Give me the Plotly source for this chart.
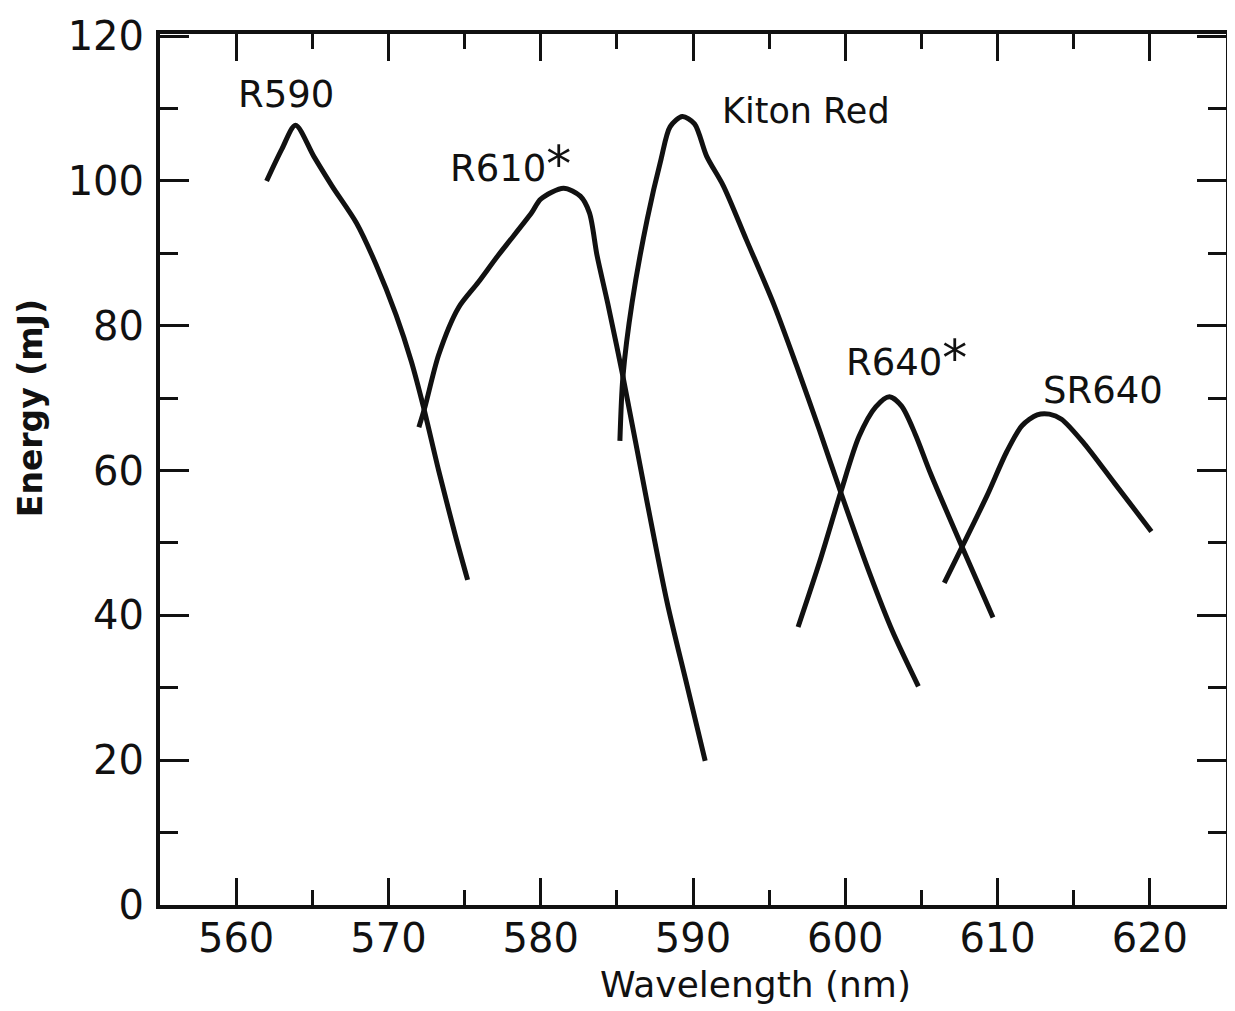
import plotly.graph_objects as go

# ---- data ----
r590_x = [562.0, 563.0, 563.9, 565.1, 566.3, 567.9, 569.2, 570.5, 571.5, 572.3, 573.3, 574.4, 575.2]
r590_y = [100.0, 104.4, 107.7, 103.4, 99.3, 94.2, 88.4, 81.5, 75.1, 68.8, 60.0, 51.0, 44.9]

r610_x = [572.0, 572.4, 573.3, 574.6, 575.9, 577.2, 579.4, 580.0, 581.5, 582.6, 583.2, 583.7,
          584.4, 585.4, 587.0, 588.3, 589.6, 590.8]
r610_y = [66.0, 68.8, 76.0, 82.5, 86.0, 89.7, 95.6, 97.5, 99.0, 97.9, 95.6, 89.7,
          83.1, 73.0, 55.5, 41.8, 30.4, 19.9]

kiton_x = [585.2, 585.4, 586.0, 587.0, 587.9, 588.5, 589.3, 590.1, 590.9, 592.0, 593.5, 595.3,
           596.8, 598.3, 599.7, 601.6, 603.1, 604.8]
kiton_y = [64.1, 73.0, 83.2, 94.8, 103.0, 107.5, 108.9, 107.9, 103.4, 99.3, 91.9, 83.0,
           74.5, 65.6, 57.0, 45.8, 37.8, 30.2]

r640_x = [596.9, 598.3, 599.7, 600.9, 602.0, 602.9, 603.7, 604.6, 605.6, 607.7, 609.7]
r640_y = [38.4, 47.3, 57.0, 64.7, 68.8, 70.2, 68.9, 65.0, 59.6, 49.3, 39.7]

sr640_x = [606.5, 607.7, 609.3, 610.6, 611.6, 612.6, 613.4, 614.2, 615.7, 617.7, 620.1]
sr640_y = [44.5, 49.6, 56.5, 62.6, 66.2, 67.7, 67.8, 67.1, 63.7, 58.2, 51.6]

series = [("R590", r590_x, r590_y), ("R610*", r610_x, r610_y), ("Kiton Red", kiton_x, kiton_y),
          ("R640*", r640_x, r640_y), ("SR640", sr640_x, sr640_y)]

label_text = ["R590", "R610<span style='font-size:50px'>*</span>", "Kiton Red",
              "R640<span style='font-size:50px'>*</span>", "SR640"]
label_x = [563.3, 578.0, 597.4, 604.0, 616.9]
label_y = [112.0, 102.3, 109.7, 75.5, 71.1]
label_size = [37, 37, 35, 37, 37]

x_ticks = [560, 570, 580, 590, 600, 610, 620]
y_ticks = [0, 20, 40, 60, 80, 100, 120]

FONT = "DejaVu Sans"
INK = "#111111"

fig = go.Figure()
for name, xs, ys in series:
    fig.add_trace(go.Scatter(x=xs, y=ys, mode="lines", name=name,
                             line=dict(color=INK, width=5, shape="spline", smoothing=0.8),
                             showlegend=False, hoverinfo="skip"))

for t, x, y, s in zip(label_text, label_x, label_y, label_size):
    fig.add_annotation(x=x, y=y, xref="x", yref="y", text=t, showarrow=False,
                       xanchor="center", yanchor="middle",
                       font=dict(family=FONT, size=s, color=INK))

# axis titles as annotations (positioned as in the reference)
fig.add_annotation(x=594.1, y=-0.091, xref="x", yref="paper", text="Wavelength (nm)",
                   xanchor="center", yanchor="middle",
                   showarrow=False, font=dict(family=FONT, size=36, color=INK))
fig.add_annotation(x=-0.1215, y=0.571, xref="paper", yref="paper", text="<b>Energy (mJ)</b>",
                   xanchor="center", yanchor="middle",
                   textangle=-90, showarrow=False, font=dict(family=FONT, size=33, color=INK))

fig.update_xaxes(range=[555, 625], tickvals=x_ticks, ticktext=[str(v) for v in x_ticks],
                 ticks="inside", ticklen=27, tickwidth=3, tickcolor=INK,
                 showline=True, linewidth=4, linecolor=INK, mirror="allticks",
                 showgrid=False, zeroline=False, ticklabelstandoff=-5,
                 ticklabeloverflow="allow",
                 tickfont=dict(family=FONT, size=40, color=INK),
                 minor=dict(dtick=5, tick0=555, ticks="inside", ticklen=15, tickwidth=3,
                            tickcolor=INK, showgrid=False))
fig.update_yaxes(range=[0, 120.3], tickvals=y_ticks, ticktext=[str(v) for v in y_ticks],
                 ticks="inside", ticklen=29, tickwidth=3, tickcolor=INK,
                 showline=True, linewidth=4, linecolor=INK, mirror="allticks",
                 showgrid=False, zeroline=False, ticklabelstandoff=4,
                 ticklabeloverflow="allow",
                 tickfont=dict(family=FONT, size=40, color=INK),
                 minor=dict(dtick=10, tick0=0, ticks="inside", ticklen=18, tickwidth=3,
                            tickcolor=INK, showgrid=False))

# page body has an 8px default margin: shrink the figure so the plot area lands where the reference has it
fig.update_layout(width=1227, height=1003, margin=dict(l=152, r=5, t=19, b=106),
                  paper_bgcolor="white", plot_bgcolor="white",
                  font=dict(family=FONT, color=INK))

fig.write_html("out.html")
